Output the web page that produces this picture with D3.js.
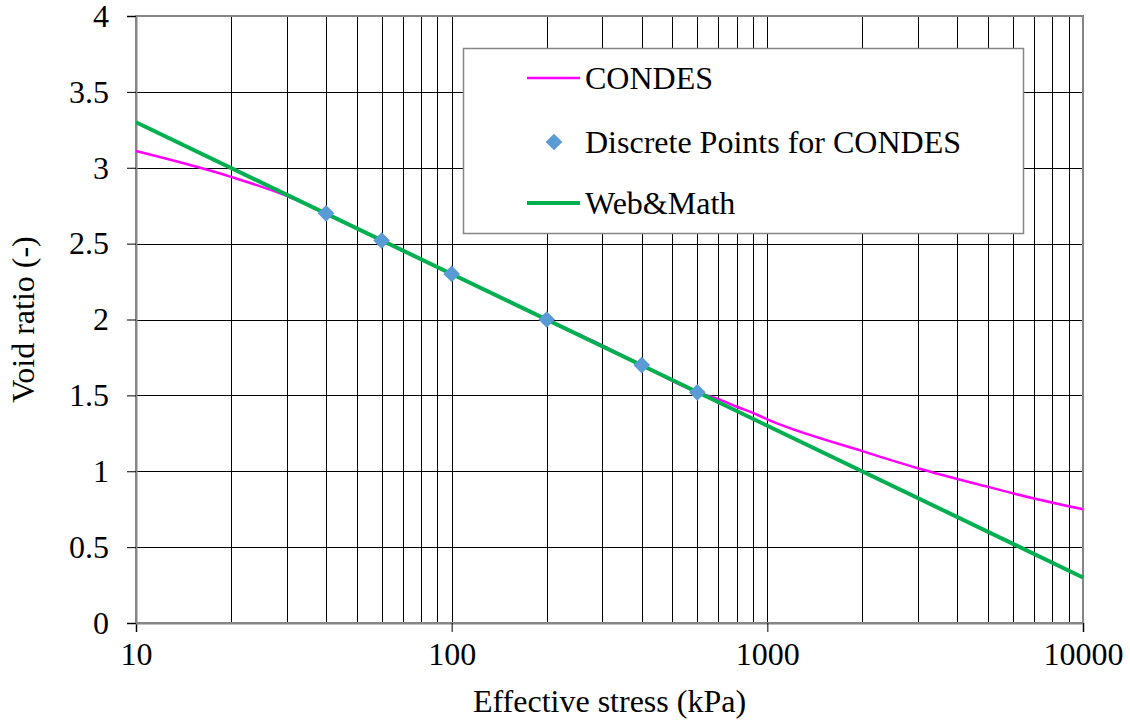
<!DOCTYPE html>
<html>
<head>
<meta charset="utf-8">
<script src="https://cdn.jsdelivr.net/npm/d3@7"></script>
<style>
  body { margin: 0; background: #fff; }
</style>
</head>
<body>
<script>
// chart data
var condesStress = [10, 20, 30, 40, 60, 100, 200, 300, 400, 600, 700, 800, 900, 1000, 2000, 3000, 5000, 7000, 10000];
var condesVoid   = [3.11, 2.94, 2.815, 2.70, 2.52, 2.30, 2.00, 1.83, 1.70, 1.52, 1.475, 1.425, 1.385, 1.342, 1.133, 1.02, 0.897, 0.82, 0.749];

var pointStress = [40, 60, 100, 200, 400, 600];
var pointVoid   = [2.70, 2.52, 2.30, 2.00, 1.70, 1.52];

var webStress = [10, 100, 1000, 10000];
var webVoid   = [3.30, 2.30, 1.30, 0.30];

var xTicks = [10, 100, 1000, 10000];
var yTicks = [0, 0.5, 1, 1.5, 2, 2.5, 3, 3.5, 4];

var legendNames = ["CONDES", "Discrete Points for CONDES", "Web&Math"];

var serif = "'Liberation Serif', 'Times New Roman', serif";

//frame
var width = 1130,
    height = 721;
var mLeft = 136, mRight = 1083, mTop = 16, mBottom = 623;

var svg = d3.select("body")
    .append("svg")
    .attr("width", width)
    .attr("height", height);

var x = d3.scaleLog().domain([10, 10000]).range([mLeft, mRight]);
var y = d3.scaleLinear().domain([0, 4]).range([mBottom, mTop]);

//vertical grid lines at every 2..10 of each decade
var minor = [];
for (var d = 10; d < 10000; d *= 10){
    for (var k = 2; k <= 10; k++){
        minor.push(d * k);
    }
}

svg.append("g")
    .selectAll("line")
    .data(minor.filter(function(v){ return v < 10000; }))
    .enter()
    .append("line")
    .attr("x1", function(v){ return Math.round(x(v)) + 0.5; })
    .attr("x2", function(v){ return Math.round(x(v)) + 0.5; })
    .attr("y1", mTop)
    .attr("y2", mBottom)
    .attr("stroke", "#000")
    .attr("stroke-width", 1);

svg.append("g")
    .selectAll("line")
    .data(yTicks.filter(function(v){ return v > 0 && v < 4; }))
    .enter()
    .append("line")
    .attr("x1", mLeft)
    .attr("x2", mRight)
    .attr("y1", function(v){ return Math.round(y(v)) + 0.5; })
    .attr("y2", function(v){ return Math.round(y(v)) + 0.5; })
    .attr("stroke", "#000")
    .attr("stroke-width", 1);

//plot frame
svg.append("rect")
    .attr("x", mLeft)
    .attr("y", mTop)
    .attr("width", mRight - mLeft)
    .attr("height", mBottom - mTop)
    .attr("fill", "none")
    .attr("stroke", "#868686")
    .attr("stroke-width", 2);

//axes
var xAxis = svg.append("g")
    .attr("transform", "translate(0," + mBottom + ")")
    .call(d3.axisBottom(x).tickValues(xTicks).tickFormat(d3.format("d")).tickSize(9).tickPadding(10));
var yAxis = svg.append("g")
    .attr("transform", "translate(" + mLeft + ",0)")
    .call(d3.axisLeft(y).tickValues(yTicks).tickFormat(d3.format("")).tickSize(9).tickPadding(18));

[xAxis, yAxis].forEach(function(a){
    a.attr("font-family", null);
    a.select(".domain").attr("stroke", "#868686").attr("stroke-width", 2);
    a.selectAll(".tick line").attr("stroke", "#000");
    a.selectAll(".tick text")
        .style("font-family", serif)
        .style("font-size", "32px")
        .attr("fill", "#000");
});

//axis titles
svg.append("text")
    .attr("x", (mLeft + mRight) / 2)
    .attr("y", 712)
    .attr("text-anchor", "middle")
    .style("font-family", serif)
    .style("font-size", "32px")
    .text("Effective stress (kPa)");

svg.append("text")
    .attr("transform", "translate(34," + ((mTop + mBottom) / 2) + ") rotate(-90)")
    .attr("text-anchor", "middle")
    .style("font-family", serif)
    .style("font-size", "32px")
    .text("Void ratio (-)");

//lines
var condesLine = d3.line()
    .x(function(d){ return x(d[0]); })
    .y(function(d){ return y(d[1]); })
    .curve(d3.curveMonotoneX);

svg.append("path")
    .datum(d3.zip(condesStress, condesVoid))
    .attr("d", condesLine)
    .attr("fill", "none")
    .attr("stroke", "#FF00FF")
    .attr("stroke-width", 2.5);

svg.append("path")
    .datum(d3.zip(webStress, webVoid))
    .attr("d", d3.line().x(function(d){ return x(d[0]); }).y(function(d){ return y(d[1]); }))
    .attr("fill", "none")
    .attr("stroke", "#00B050")
    .attr("stroke-width", 4);

var diamond = d3.symbol().type(d3.symbolSquare).size(140);

svg.append("g")
    .selectAll("path")
    .data(d3.zip(pointStress, pointVoid))
    .enter()
    .append("path")
    .attr("d", diamond)
    .attr("transform", function(d){ return "translate(" + x(d[0]) + "," + y(d[1]) + ") rotate(45)"; })
    .attr("fill", "#5B9BD5");

//legend
var legend = svg.append("g");
legend.append("rect")
    .attr("x", 463.5)
    .attr("y", 48.5)
    .attr("width", 560)
    .attr("height", 185)
    .attr("fill", "#fff")
    .attr("stroke", "#868686")
    .attr("stroke-width", 1.5);

var rowY = [78, 142, 203];
legend.append("line")
    .attr("x1", 527).attr("x2", 580)
    .attr("y1", rowY[0]).attr("y2", rowY[0])
    .attr("stroke", "#FF00FF").attr("stroke-width", 2.5);
legend.append("path")
    .attr("d", diamond)
    .attr("transform", "translate(554," + rowY[1] + ") rotate(45)")
    .attr("fill", "#5B9BD5");
legend.append("line")
    .attr("x1", 527).attr("x2", 580)
    .attr("y1", rowY[2]).attr("y2", rowY[2])
    .attr("stroke", "#00B050").attr("stroke-width", 4);

legend.selectAll("text")
    .data(legendNames)
    .enter()
    .append("text")
    .attr("x", 585)
    .attr("y", function(d, i){ return rowY[i]; })
    .attr("dy", "0.35em")
    .style("font-family", serif)
    .style("font-size", "32px")
    .text(function(d){ return d; });
</script>
</body>
</html>
